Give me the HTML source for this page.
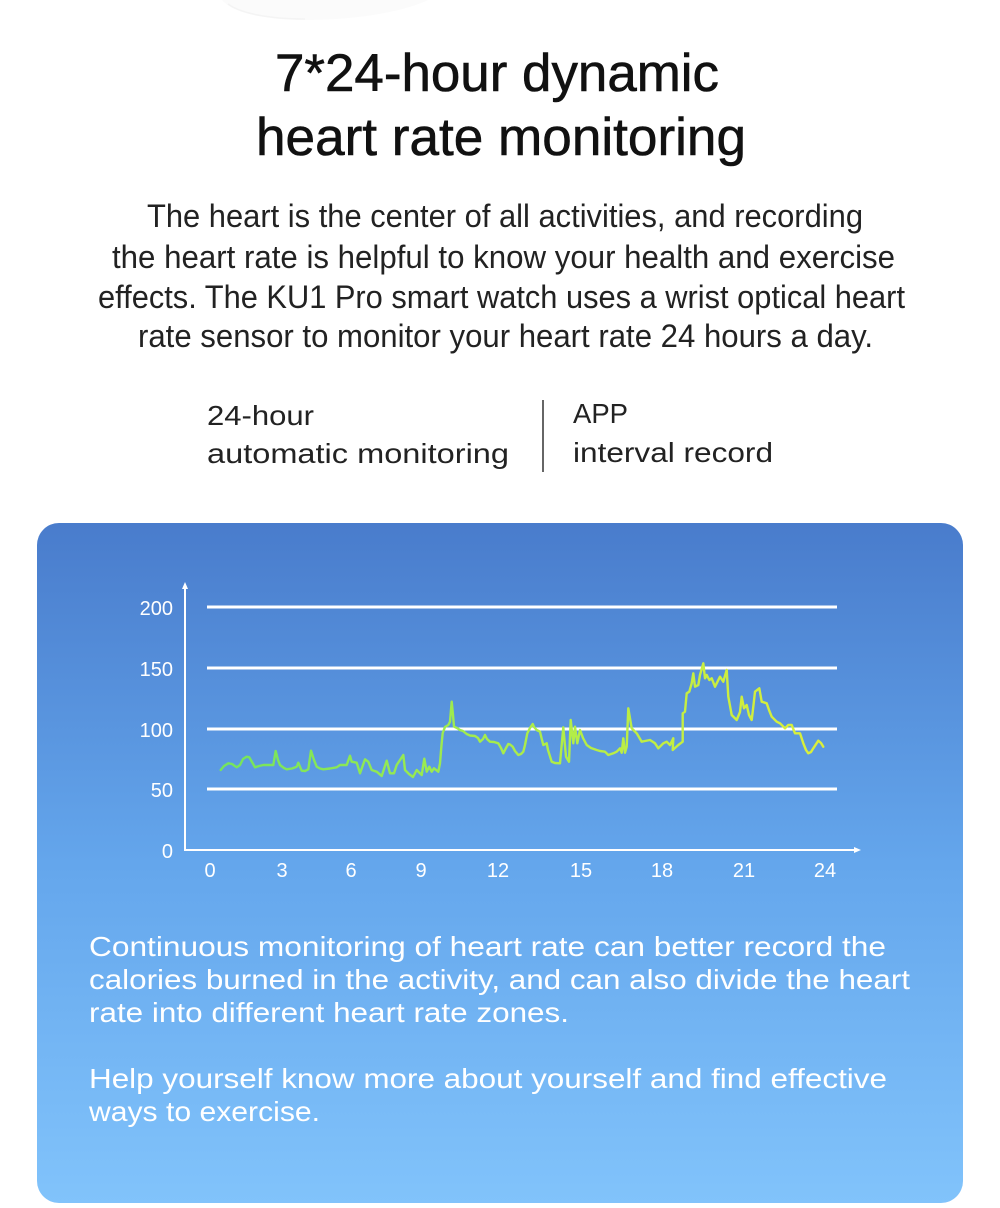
<!DOCTYPE html>
<html>
<head>
<meta charset="utf-8">
<style>
  html, body { margin: 0; padding: 0; background: #ffffff; }
  body { width: 1000px; height: 1208px; overflow: hidden; }
  svg { display: block; }
  text { font-family: "Liberation Sans", "Noto Sans CJK SC", sans-serif; }
</style>
</head>
<body>
<svg width="1000" height="1208" viewBox="0 0 1000 1208" xmlns="http://www.w3.org/2000/svg">
  <defs>
    <linearGradient id="bg" x1="0" y1="523" x2="0" y2="1203" gradientUnits="userSpaceOnUse">
      <stop offset="0" stop-color="#497ccc"/>
      <stop offset="0.5" stop-color="#64a6ec"/>
      <stop offset="1" stop-color="#81c3fb"/>
    </linearGradient>
    <linearGradient id="ln" x1="220" y1="0" x2="825" y2="0" gradientUnits="userSpaceOnUse">
      <stop offset="0" stop-color="#74e45e"/>
      <stop offset="0.45" stop-color="#a6ec4c"/>
      <stop offset="1" stop-color="#dcef3a"/>
    </linearGradient>
  </defs>

  <rect x="0" y="0" width="1000" height="1208" fill="#ffffff"/>

  <!-- faint top shape -->
  <path d="M222,0 C232,12 262,20 305,20 C360,20 405,11 428,0 Z" fill="#fbfbfb"/>
  <path d="M228,4 C240,13 268,19 305,19" fill="none" stroke="#f4f4f4" stroke-width="1.5"/>

  <!-- title -->
  <g fill="#111" stroke="#111" stroke-width="0.6">
    <text x="275" y="91" font-size="53" textLength="444" lengthAdjust="spacingAndGlyphs">7*24-hour dynamic</text>
    <text x="256" y="155" font-size="53" textLength="490" lengthAdjust="spacingAndGlyphs">heart rate monitoring</text>
  </g>

  <!-- body -->
  <g fill="#222" font-size="32">
    <text x="147" y="227" textLength="716" lengthAdjust="spacingAndGlyphs">The heart is the center of all activities, and recording</text>
    <text x="112" y="268" textLength="783" lengthAdjust="spacingAndGlyphs">the heart rate is helpful to know your health and exercise</text>
    <text x="98" y="308" textLength="807" lengthAdjust="spacingAndGlyphs">effects. The KU1 Pro smart watch uses a wrist optical heart</text>
    <text x="138" y="347" textLength="735" lengthAdjust="spacingAndGlyphs">rate sensor to monitor your heart rate 24 hours a day.</text>
  </g>

  <!-- subheads -->
  <g fill="#222" font-size="28">
    <text x="207" y="425" textLength="107" lengthAdjust="spacingAndGlyphs">24-hour</text>
    <text x="207" y="463" textLength="302" lengthAdjust="spacingAndGlyphs">automatic monitoring</text>
    <text x="573" y="423" textLength="55" lengthAdjust="spacingAndGlyphs">APP</text>
    <text x="573" y="462" textLength="200" lengthAdjust="spacingAndGlyphs">interval record</text>
  </g>
  <line x1="543" y1="400" x2="543" y2="472" stroke="#333" stroke-width="1.5"/>

  <!-- blue box -->
  <rect x="37" y="523" width="926" height="680" rx="22" ry="22" fill="url(#bg)"/>

  <!-- grid -->
  <g stroke="#ffffff" stroke-width="3">
    <line x1="207" y1="607" x2="837" y2="607"/>
    <line x1="207" y1="668" x2="837" y2="668"/>
    <line x1="207" y1="729" x2="837" y2="729"/>
    <line x1="207" y1="789" x2="837" y2="789"/>
  </g>
  <!-- axes -->
  <g stroke="#ffffff" stroke-width="2" fill="none">
    <line x1="185" y1="587" x2="185" y2="851"/>
    <line x1="184" y1="850" x2="856" y2="850"/>
  </g>
  <path d="M185,582 L182,589 L188,589 Z" fill="#ffffff"/>
  <path d="M861,850 L854,847 L854,853 Z" fill="#ffffff"/>

  <!-- y labels -->
  <g fill="#ffffff" font-size="20" text-anchor="end">
    <text x="173" y="615">200</text>
    <text x="173" y="676">150</text>
    <text x="173" y="737">100</text>
    <text x="173" y="797">50</text>
    <text x="173" y="858">0</text>
  </g>
  <!-- x labels -->
  <g fill="#ffffff" font-size="20" text-anchor="middle">
    <text x="210" y="877">0</text>
    <text x="282" y="877">3</text>
    <text x="351" y="877">6</text>
    <text x="421" y="877">9</text>
    <text x="498" y="877">12</text>
    <text x="581" y="877">15</text>
    <text x="662" y="877">18</text>
    <text x="744" y="877">21</text>
    <text x="825" y="877">24</text>
  </g>

  <!-- series -->
  <polyline fill="none" stroke="url(#ln)" stroke-width="2.4" stroke-linejoin="round" stroke-linecap="round"
    points="220.7,770 224,766 228.3,763.3 232,764 236.7,767.3 240,765 243,759 246.7,756.7 249.3,757.3 252,762 255,767.3 259,766 263.3,765 268,765 273.3,765 275.7,751 278,760 280,765 284,768 286.7,769.3 292,768.5 296.7,766.7 298.3,762.7 301.7,770.7 305,771 308.3,769.3 311,750.7 314,760 316.7,766.7 320,768.5 323.3,769.3 330,768.5 336.7,767.3 340,765 346.7,765 350,755.7 351.7,761.7 356.7,762.7 360,773.3 365,759.3 368.3,761.7 371.7,770 376.7,771.7 381.7,776 386.7,760.7 390,773.3 394,773.3 396.7,765 403.3,755 405,770 409,774 413,777 416.7,770 421.7,775 424.3,758.7 426.7,771.7 429.3,766.7 431.7,771.7 434,768.3 438.3,771.7 440,763.3 441.5,745 442.7,733 445,727 448.3,725 450,721.7 451.7,701.7 453,715 454,726.7 457,728 460,730 463,731 466.7,734 470,735.5 475,736 478,738 480,741.7 483,739 485,735 487,739 490,741.7 494,742 498.3,743.3 501,748 503.3,753.3 506,748 508.3,744 510,744.5 512.7,746.7 515,751 518.3,755 521,754 523.3,751.7 525,745 527.3,733.3 530,728 532.7,724 534,727 536.7,730 540,731.7 541.5,738 543.3,745 546.7,743.3 548,750 551.7,761.7 555,763 560,763.3 563.3,727.3 566,756.7 569,761.7 570.7,720 573.3,743.3 575,726.7 577.3,743.3 580,730 583,738 586.7,745 591,748 596.7,750 600,751 605,751.7 608.3,755 613.3,753.3 616.7,751.7 620,748.3 621.7,752.7 623.3,738.3 625,752.7 626.7,746.7 628.3,708.3 631.7,728.3 636.7,733.3 641.7,741.7 645,741 650,740 655,743.3 658.3,748.3 663.3,743.3 666.7,741.7 670,745 673.3,738.3 672.7,750 678.3,745 682.7,741.7 682.7,713.3 685,711.7 686.7,693.3 689.3,691.7 691.7,683.3 693.3,673.3 695,686.7 698.3,685 700,675 703.3,663.3 705,678.3 706.7,675 709.3,680 711.7,678.3 715,686.7 720,676.7 723.3,681.7 726.7,670 728.3,696.7 731.7,715 736.7,720 740,712 741.7,696.7 744,708.3 746.7,705 749,715 751.7,720 753.5,705 755,691.7 759.3,688.3 761.7,701.7 766.7,703.3 769,710 771.7,716.7 776.7,721.7 780,723.3 785,728.3 788.3,725 791.7,725 795,733.3 800,733.3 803.3,743.3 806,750 808.3,753.3 811,752 813.3,748.3 818.3,740.7 821,743 823.3,746.7"/>

  <!-- box paragraph -->
  <g fill="#ffffff" font-size="28">
    <text x="89" y="956" textLength="797" lengthAdjust="spacingAndGlyphs">Continuous monitoring of heart rate can better record the</text>
    <text x="89" y="989" textLength="821" lengthAdjust="spacingAndGlyphs">calories burned in the activity, and can also divide the heart</text>
    <text x="89" y="1022" textLength="480" lengthAdjust="spacingAndGlyphs">rate into different heart rate zones.</text>
    <text x="89" y="1088" textLength="798" lengthAdjust="spacingAndGlyphs">Help yourself know more about yourself and find effective</text>
    <text x="89" y="1121" textLength="231" lengthAdjust="spacingAndGlyphs">ways to exercise.</text>
  </g>
</svg>
</body>
</html>
